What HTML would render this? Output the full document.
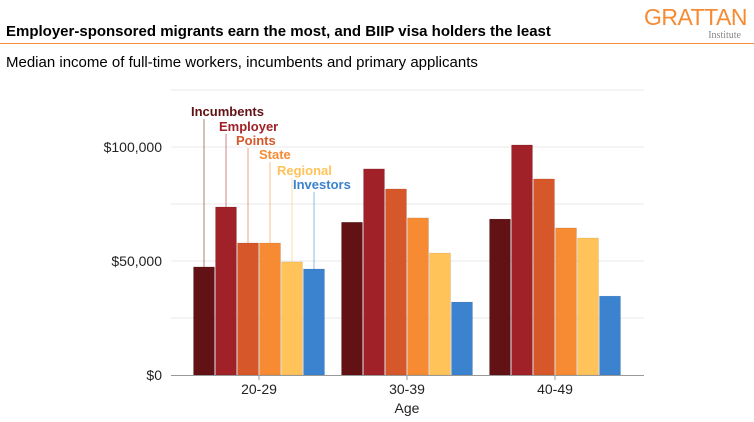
<!DOCTYPE html>
<html><head><meta charset="utf-8"><style>
body{margin:0;background:#fff;font-family:"Liberation Sans",Arial,sans-serif;}
</style></head><body>
<svg width="754" height="417" viewBox="0 0 754 417" xmlns="http://www.w3.org/2000/svg" font-family="Liberation Sans, Arial, sans-serif">
<text x="6" y="36" font-size="15" font-weight="bold" fill="#000">Employer-sponsored migrants earn the most, and BIIP visa holders the least</text>
<line x1="0" y1="43.5" x2="754" y2="43.5" stroke="#f68b33" stroke-width="1"/>
<text x="644" y="25" font-size="23" fill="#f68b33" letter-spacing="-0.5">GRATTAN</text>
<text x="741" y="38" font-size="10" fill="#888" text-anchor="end" font-family="Liberation Serif, serif">Institute</text>
<text x="6" y="67" font-size="15" fill="#000">Median income of full-time workers, incumbents and primary applicants</text>
<g id="grid"></g>
<g id="bars"></g>
<g id="labels"></g>
<line x1="171" y1="375.5" x2="644" y2="375.5" stroke="#999"/>
<g id="xt"></g>
<text x="407" y="413" font-size="14" text-anchor="middle" fill="#222">Age</text>
</svg>
<script>
const categories=["20-29","30-39","40-49"];
const series=["Incumbents","Employer","Points","State","Regional","Investors"];
const colors=["#621214","#a02127","#d6582a","#f68b33","#ffc35a","#3b82cf"];
const values=[[47.4,73.7,57.9,57.9,49.6,46.5],[67,90.4,81.6,68.9,53.5,32],[68.4,100.9,86,64.5,60.1,34.6]];
const yTicks=[0,25,50,75,100,125];
const yLabels={0:"$0",50:"$50,000",100:"$100,000"};
const labelY=[116,131,145,159,175,189];
const labelX=[191,219,236,259,277,293];
const NS="http://www.w3.org/2000/svg";
const y=v=>375-v*2.28;
const cx=i=>259+i*148;
function mk(t,a,p){const e=document.createElementNS(NS,t);for(const k in a)e.setAttribute(k,a[k]);document.getElementById(p).appendChild(e);return e;}
yTicks.forEach(t=>{
 if(t>0){const l=mk('line',{x1:171,x2:644,y1:y(t),y2:y(t),stroke:'#e8e8e8'},'grid');
 
 }
 if(yLabels[t]){const tx=mk('text',{x:162,y:y(t)+5,'font-size':14,'text-anchor':'end',fill:'#222'},'grid');tx.textContent=yLabels[t];
 
 }
});
categories.forEach((c,g)=>{
 values[g].forEach((v,i)=>{
  const x=cx(g)+(i-2.5)*22;
  const r=mk('rect',{x:x-10.5,y:y(v),width:21,height:375-y(v),fill:colors[i],stroke:'rgba(0,0,0,0.15)','stroke-width':0.5},'bars');
  
  
 });
 const tl=mk('line',{x1:cx(g),x2:cx(g),y1:375,y2:380,stroke:'#999'},'xt');
 
 
 const t=mk('text',{x:cx(g),y:394,'font-size':14,'text-anchor':'middle',fill:'#222'},'xt');t.textContent=c;
 
 
});
series.forEach((s,i)=>{
 const x=cx(0)+(i-2.5)*22;
 const l=mk('line',{x1:x,x2:x,y1:labelY[i]+3,y2:y(values[0][i]),stroke:colors[i],'stroke-opacity':0.55,'stroke-width':1},'labels');
 
 
 const t=mk('text',{x:labelX[i],y:labelY[i],'font-size':13,'font-weight':'bold',fill:colors[i]},'labels');t.textContent=s;
 
 
});
</script>
</body></html>
